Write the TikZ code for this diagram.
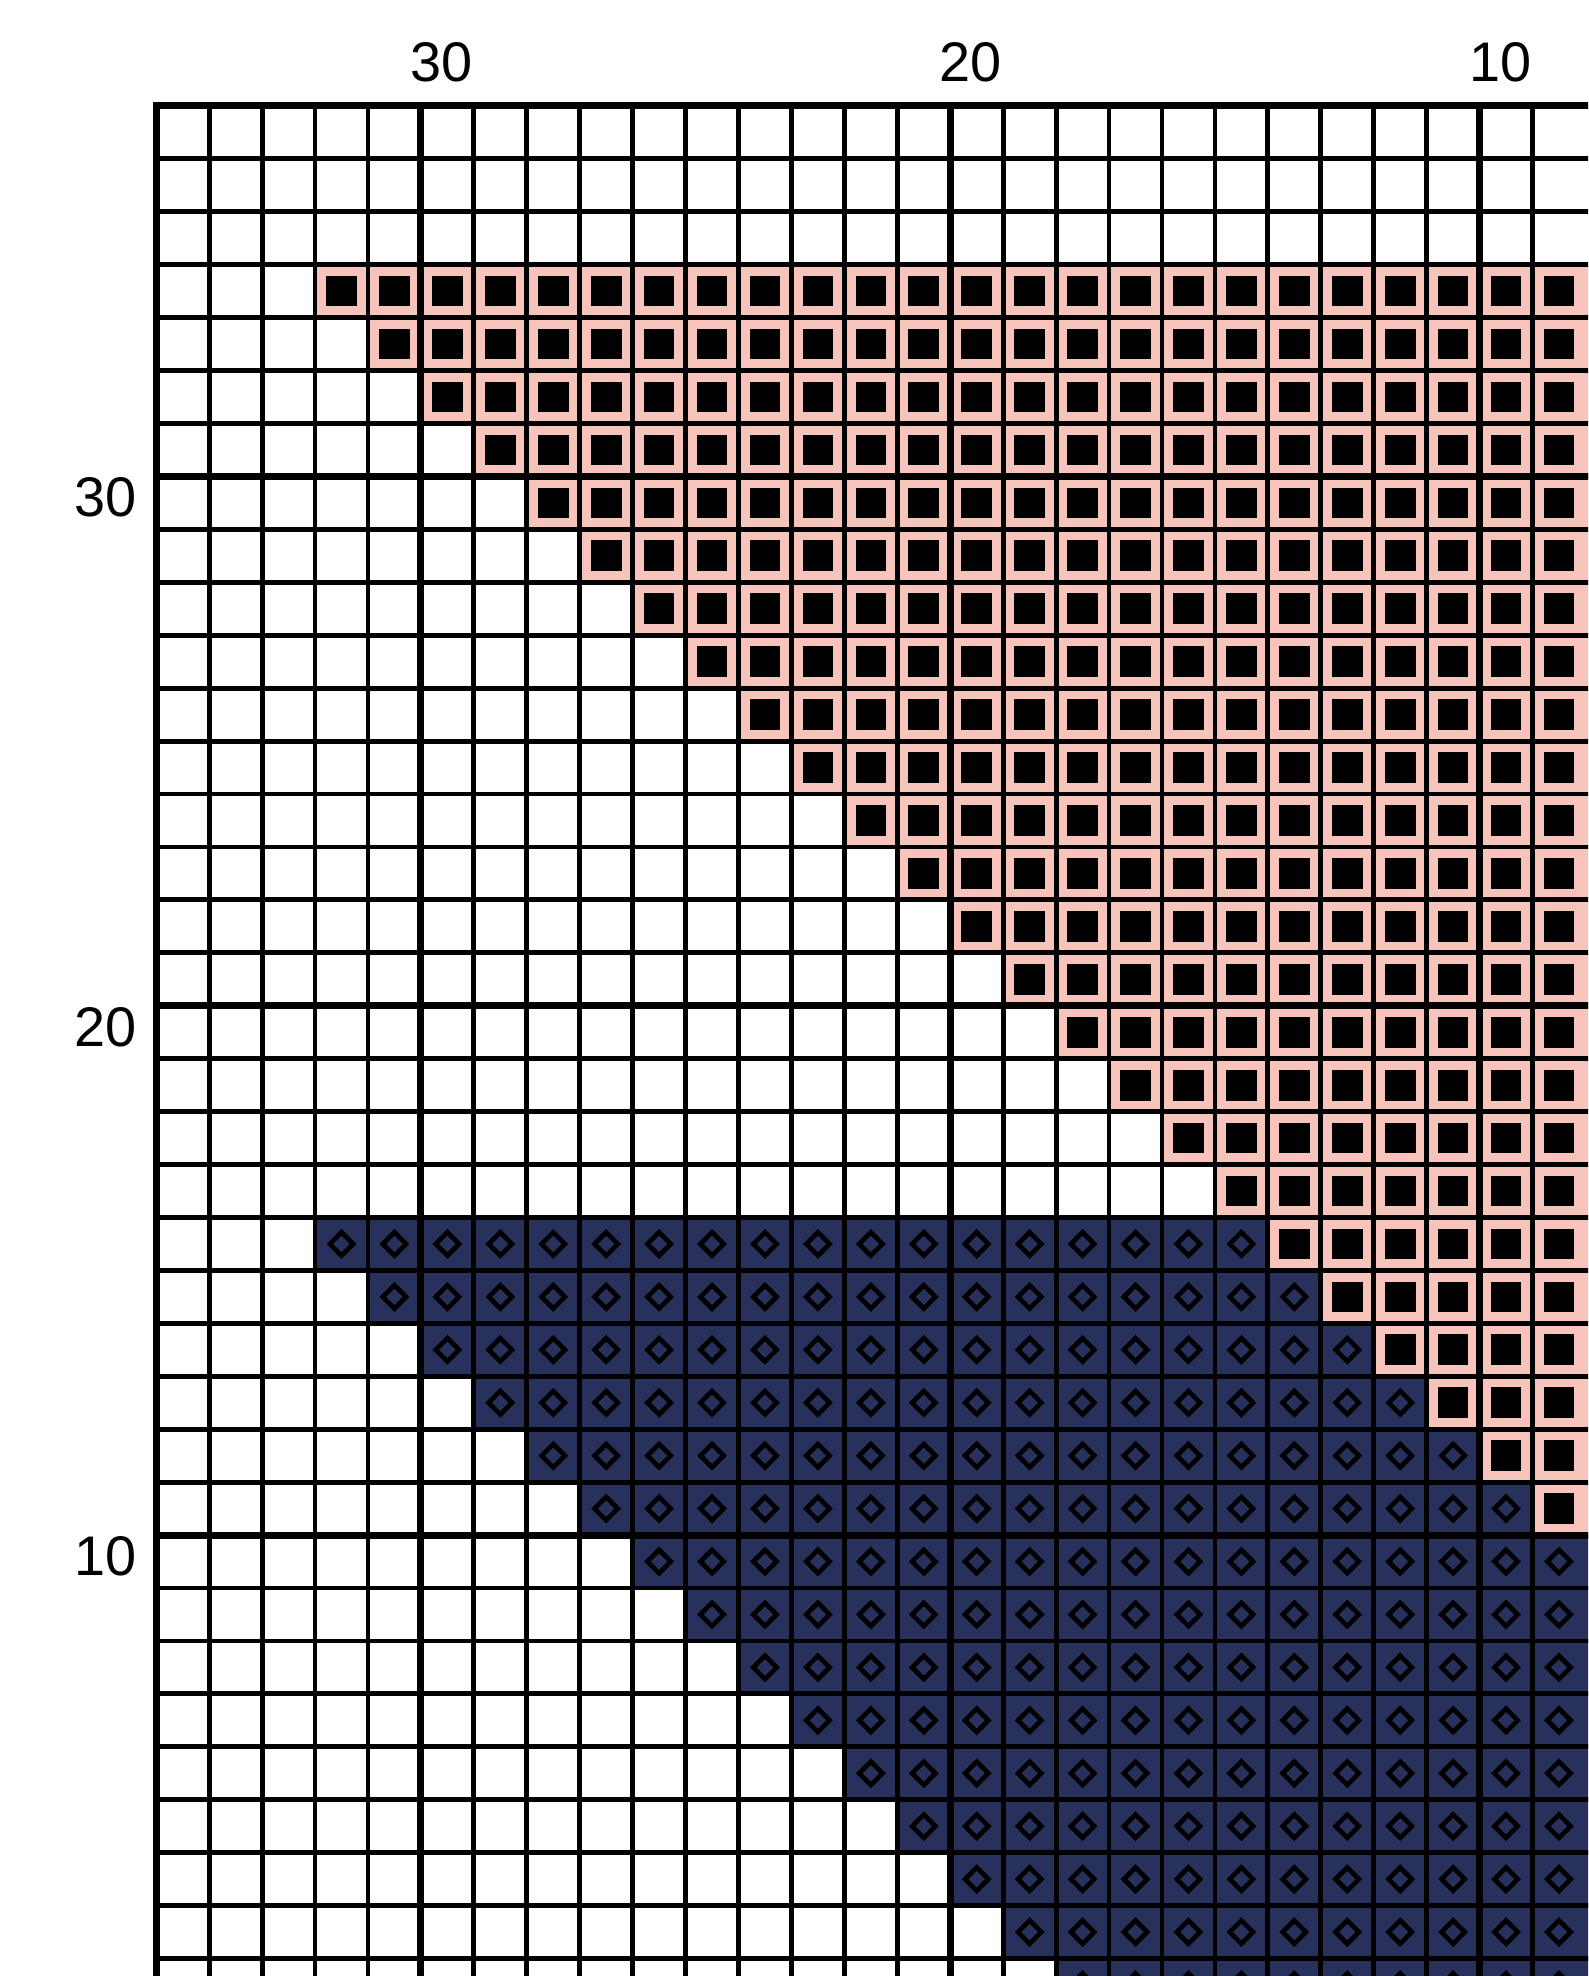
\documentclass[tikz,border=0pt]{standalone}
\usepackage{fontspec}
\setmainfont{Liberation Sans}
\definecolor{stitchpink}{RGB}{246,196,186}
\definecolor{stitchnavy}{RGB}{40,48,92}

\begin{document}
\begin{tikzpicture}[
  x=0.5cm, y=-0.5cm,
  thin grid/.style={line width=1.3pt, black},
  major grid/.style={line width=1.9pt, black},
  pinkcell/.style={fill=stitchpink},
  navycell/.style={fill=stitchnavy},
  square symbol/.style={fill=black},
  diamond symbol/.style={draw=black, line width=1.25pt},
  axis label/.style={font=\fontsize{15}{17}\selectfont, inner sep=0pt},
]
\useasboundingbox (-2.952,-2) rectangle (27.048,35.33);
% --- chart area (cropped at right and bottom) ---
\begin{scope}
\clip (-0.2,-0.2) rectangle (27.048,35.33);
% --- pink stitches (square symbol) ---
\foreach \r in {3,...,26}{
  \foreach \c in {\r,...,27}{
    \fill[pinkcell] (\c,\r) rectangle ++(1,1);
    \fill[square symbol] (\c+0.21,\r+0.21) rectangle ++(0.58,0.58);
  }
}
% --- navy stitches (diamond symbol) ---
\foreach \r in {21,...,35}{
  \pgfmathtruncatemacro\first{\r-18}
  \pgfmathtruncatemacro\last{\r<27 ? \r-1 : 27}
  \foreach \c in {\first,...,\last}{
    \fill[navycell] (\c,\r) rectangle ++(1,1);
    \draw[diamond symbol] (\c+0.5,\r+0.28) -- (\c+0.72,\r+0.5) -- (\c+0.5,\r+0.72) -- (\c+0.28,\r+0.5) -- cycle;
  }
}
% --- grid ---
\foreach \c in {1,...,26} \draw[thin grid] (\c,0) -- (\c,35.5);
\foreach \r in {1,...,35} \draw[thin grid] (0,\r) -- (27.2,\r);
\foreach \c in {5,15,25} \draw[major grid] (\c,0) -- (\c,35.5);
\foreach \r in {7,17,27} \draw[major grid] (0,\r) -- (27.2,\r);
\draw[major grid] (27.2,0) -- (0,0) -- (0,35.5);
\end{scope}
% --- column numbers ---
\node[axis label] (col30) at (5.39,-0.83) {30};
\node[axis label] (col20) at (15.39,-0.83) {20};
\node[axis label] (col10) at (25.39,-0.83) {10};
% --- row numbers ---
\node[axis label, anchor=east] (row30) at (-0.36,7.4) {30};
\node[axis label, anchor=east] (row20) at (-0.36,17.4) {20};
\node[axis label, anchor=east] (row10) at (-0.36,27.4) {10};
\end{tikzpicture}
\end{document}
